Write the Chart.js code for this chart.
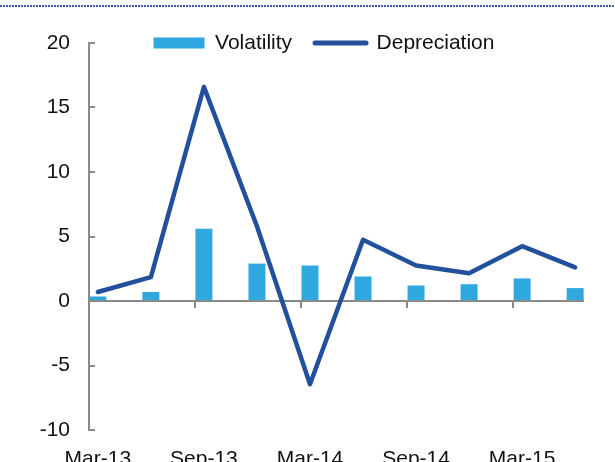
<!DOCTYPE html>
<html>
<head>
<meta charset="utf-8">
<script src="https://cdn.jsdelivr.net/npm/chart.js@4.4.1/dist/chart.umd.min.js"></script>
<style>
  html, body { margin: 0; padding: 0; background: #fff; overflow: hidden; }
  #wrap { position: relative; width: 615px; height: 480px; }
</style>
</head>
<body>
<div id="wrap"><canvas id="fxChart"></canvas></div>
<script>
// monthly date axis, data is quarterly
const months = [
  "Mar-13", "Apr-13", "May-13", "Jun-13", "Jul-13", "Aug-13", "Sep-13",
  "Oct-13", "Nov-13", "Dec-13", "Jan-14", "Feb-14", "Mar-14", "Apr-14",
  "May-14", "Jun-14", "Jul-14", "Aug-14", "Sep-14", "Oct-14", "Nov-14",
  "Dec-14", "Jan-15", "Feb-15", "Mar-15", "Apr-15", "May-15", "Jun-15",
];
const labelledMonths = ["Mar-13", "Sep-13", "Mar-14", "Sep-14", "Mar-15"];
const quarters = [
  "Mar-13", "Jun-13", "Sep-13", "Dec-13", "Mar-14",
  "Jun-14", "Sep-14", "Dec-14", "Mar-15", "Jun-15",
];
const volatility = [0.35, 0.7, 5.6, 2.9, 2.75, 1.9, 1.2, 1.3, 1.75, 1.0];
const depreciation = [0.7, 1.85, 16.6, 5.8, -6.45, 4.75, 2.75, 2.15, 4.25, 2.6];
const yTicks = [-10, -5, 0, 5, 10, 15, 20];

const colors = {
  bar: "#2ea8df",
  line: "#22509d",
  axis: "#8a8a8a",
  text: "#111111",
  rule: "#3a5db0",
};
const font = { family: '"Liberation Sans", Arial, sans-serif', size: 21 };
const legendPad = 23;
const plotTop = 43;

// dotted rule across the top of the page
const topRule = {
  id: "topRule",
  beforeDraw(chart) {
    const ctx = chart.ctx;
    ctx.save();
    ctx.strokeStyle = colors.rule;
    ctx.lineWidth = 2;
    ctx.setLineDash([2, 1]);
    ctx.beginPath();
    ctx.moveTo(0, 6);
    ctx.lineTo(chart.width, 6);
    ctx.stroke();
    ctx.restore();
  },
};

// tick marks: inside the y axis, hanging below the zero line on x
const axisMarks = {
  id: "axisMarks",
  afterDatasetsDraw(chart) {
    const { ctx, scales: { x, y } } = chart;
    const y0 = y.getPixelForValue(0);
    const step = x.width / months.length;
    ctx.save();
    ctx.strokeStyle = colors.axis;
    ctx.lineWidth = 2;
    ctx.beginPath();
    y.ticks.forEach((t) => {
      const py = Math.round(y.getPixelForValue(t.value));
      ctx.moveTo(x.left, py);
      ctx.lineTo(x.left + 6, py);
    });
    labelledMonths.forEach((m) => {
      const px = Math.round(x.getPixelForValue(months.indexOf(m)) - step / 2);
      ctx.moveTo(px, y0);
      ctx.lineTo(px, y0 + 7);
    });
    ctx.stroke();
    ctx.restore();
  },
};

// legend sits at the top of the plot, level with the 20 tick
const legendPlace = {
  id: "legendPlace",
  afterLayout(chart) {
    const lg = chart.legend;
    const area = chart.chartArea;
    const h = lg.height;
    lg.left = area.left;
    lg.right = area.right - 25;
    lg.width = lg.right - lg.left;
    lg.top = area.top - legendPad - font.size / 2;
    lg.bottom = lg.top + h;
  },
};

new Chart(document.getElementById("fxChart"), {
  type: "bar",
  data: {
    labels: months,
    datasets: [
      {
        label: "Volatility",
        data: quarters.map((q, i) => ({ x: q, y: volatility[i] })),
        backgroundColor: colors.bar,
        borderWidth: 0,
        barPercentage: 1,
        categoryPercentage: 0.96,
        order: 1,
      },
      {
        type: "line",
        label: "Depreciation",
        data: quarters.map((q, i) => ({ x: q, y: depreciation[i] })),
        borderColor: colors.line,
        backgroundColor: colors.line,
        borderWidth: 4.5,
        borderCapStyle: "round",
        borderJoinStyle: "round",
        tension: 0,
        pointRadius: 0,
        fill: false,
        order: 0,
      },
    ],
  },
  options: {
    responsive: true,
    maintainAspectRatio: false,
    animation: false,
    // legend box height is pad + font + 10; pull it up so the plot starts at plotTop
    layout: { padding: { top: plotTop - (legendPad + font.size + 10), right: 31, bottom: 0, left: 0 } },
    plugins: {
      tooltip: { enabled: false },
      legend: {
        position: "top",
        align: "center",
        labels: {
          usePointStyle: true,
          pointStyleWidth: 51,
          boxHeight: 11,
          padding: legendPad,
          color: colors.text,
          font: font,
          sort: (a, b) => a.datasetIndex - b.datasetIndex,
          generateLabels(chart) {
            const items = Chart.defaults.plugins.legend.labels.generateLabels(chart);
            items.forEach((it) => {
              if (it.datasetIndex === 0) {
                it.pointStyle = "rect";
                it.lineWidth = 0;
                it.fillStyle = colors.bar;
              } else {
                it.pointStyle = "line";
                it.lineWidth = 5;
                it.lineCap = "round";
                it.strokeStyle = colors.line;
              }
            });
            return items;
          },
        },
      },
    },
    scales: {
      x: {
        offset: true,
        grid: { display: false, drawTicks: false },
        border: { display: false },
        ticks: {
          autoSkip: false,
          maxRotation: 0,
          padding: 17,
          color: colors.text,
          font: font,
          callback: function (value, index) {
            return labelledMonths.includes(months[index]) ? months[index] : "";
          },
        },
        afterFit(scale) {
          scale.height = 50;
        },
      },
      y: {
        min: yTicks[0],
        max: yTicks[yTicks.length - 1],
        ticks: {
          stepSize: 5,
          padding: 19,
          color: colors.text,
          font: font,
        },
        grid: {
          drawTicks: false,
          lineWidth: 2,
          color: (ctx) => (ctx.tick && ctx.tick.value === 0 ? colors.axis : "transparent"),
        },
        border: { display: true, color: colors.axis, width: 2 },
        afterFit(scale) {
          scale.width = 89;
        },
      },
    },
  },
  plugins: [topRule, axisMarks, legendPlace],
});
</script>
</body>
</html>
